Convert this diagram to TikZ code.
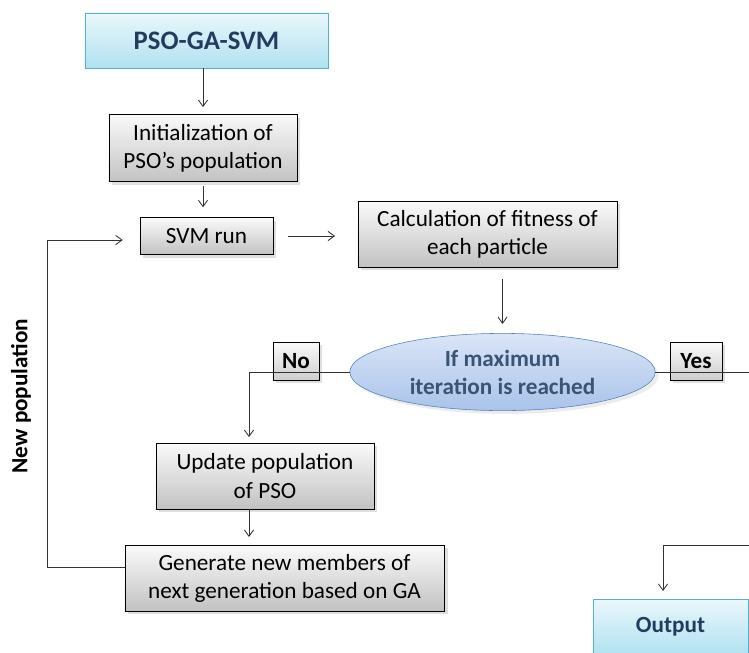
\documentclass[tikz,border=0pt]{standalone}
\usepackage{fontspec}
\setmainfont{Carlito}
\usetikzlibrary{shapes, shadows, arrows.meta}

\definecolor{boxtop}{RGB}{250,250,250}
\definecolor{boxbot}{RGB}{194,194,194}
\definecolor{cyantop}{RGB}{234,247,251}
\definecolor{cyanbot}{RGB}{176,225,240}
\definecolor{cyanline}{RGB}{84,176,204}
\definecolor{ovaltop}{RGB}{218,229,247}
\definecolor{ovalbot}{RGB}{170,195,234}
\definecolor{ovalline}{RGB}{79,129,189}
\definecolor{navy}{RGB}{34,60,96}
\definecolor{slate}{RGB}{58,84,116}
\definecolor{wire}{RGB}{50,50,50}

\begin{document}
\begin{tikzpicture}[x=0.025cm, y=-0.025cm, >={Straight Barb[length=4.5pt, width=6.5pt]}]
    \tikzstyle{proc} = [draw, top color=boxtop, bottom color=boxbot, drop shadow={opacity=0.25}, align=center, inner sep=0pt, font=\fontsize{16.5}{20}\selectfont]
    \tikzstyle{term} = [draw=cyanline, top color=cyantop, bottom color=cyanbot, text=navy, align=center, inner sep=0pt]
    \tikzstyle{oval} = [ellipse, draw=ovalline, top color=ovaltop, bottom color=ovalbot, drop shadow={opacity=0.15}, text=slate, align=center, inner sep=0pt, font=\fontsize{16.5}{20}\selectfont\bfseries]
    \tikzstyle{tag} = [draw, top color=boxtop, bottom color=boxbot!80, drop shadow={opacity=0.25}, inner sep=0pt, font=\fontsize{16.5}{19}\selectfont\bfseries]
    \tikzstyle{wire} = [draw=wire, line width=0.6pt]
    \useasboundingbox (0, 0) rectangle (749, 652);
    \node (title) at (206.5, 40.5) [term, minimum width=6.08cm, minimum height=1.38cm, font=\fontsize{19}{22}\selectfont\bfseries] {PSO-GA-SVM};
    \node (init) at (203, 148) [proc, minimum width=4.7cm, minimum height=1.68cm] {Initialization of\\PSO’s population};
    \node (svm) at (206.5, 236) [proc, minimum width=3.33cm, minimum height=0.93cm] {SVM run};
    \node (calc) at (487.5, 234) [proc, minimum width=6.48cm, minimum height=1.65cm] {Calculation of fitness of\\each particle};
    \node (cond) at (502.5, 372) [oval, minimum width=7.63cm, minimum height=1.93cm] {If maximum\\iteration is reached};
    \node (update) at (265, 476) [proc, minimum width=5.45cm, minimum height=1.65cm] {Update population\\of PSO};
    \node (gen) at (284.5, 578) [proc, minimum width=7.98cm, minimum height=1.65cm] {Generate new members of\\next generation based on GA};
    \node (out) at (670.5, 627) [term, minimum width=3.88cm, minimum height=1.4cm, font=\fontsize{16.5}{19}\selectfont\bfseries] {Output};
    \node (no) at (296, 361) [tag, minimum width=1.15cm, minimum height=0.95cm] {No};
    \node (yes) at (696, 361) [tag, minimum width=1.3cm, minimum height=0.95cm] {Yes};
    \node (newpop) at (21, 396) [rotate=90, font=\fontsize{16.5}{19}\selectfont\bfseries] {New population};
    \coordinate (nobend) at (249, 372);
    \coordinate (loopbot) at (47, 567);
    \coordinate (looptop) at (47, 240);
    \coordinate (yesend) at (749, 372);
    \coordinate (outbend) at (749, 545);
    \coordinate (outturn) at (663, 545);
    \draw[wire, ->, shorten >=5pt] (title.south -| init) -- (init.north);
    \draw[wire, ->, shorten <=3pt, shorten >=7pt] (init.south) -- (init.south |- svm.north);
    \draw[wire, ->, shorten <=10.5pt, shorten >=16pt] (svm.east) -- (svm.east -| calc.west);
    \draw[wire, ->, shorten <=8.5pt, shorten >=6.5pt] (cond |- calc.south) -- (cond.north);
    \draw[wire, ->, shorten >=4pt] (cond.west) -- (nobend) -- (nobend |- update.north);
    \draw[wire, ->, shorten >=5.5pt] (nobend |- update.south) -- (nobend |- gen.north);
    \draw[wire, ->, shorten >=12pt] (gen.west |- loopbot) -- (loopbot) -- (looptop) -- (looptop -| svm.west);
    \draw[wire] (cond.east) -- (yesend);
    \draw[wire, ->, shorten >=5.5pt] (outbend) -- (outturn) -- (outturn |- out.north);
\end{tikzpicture}
\end{document}
